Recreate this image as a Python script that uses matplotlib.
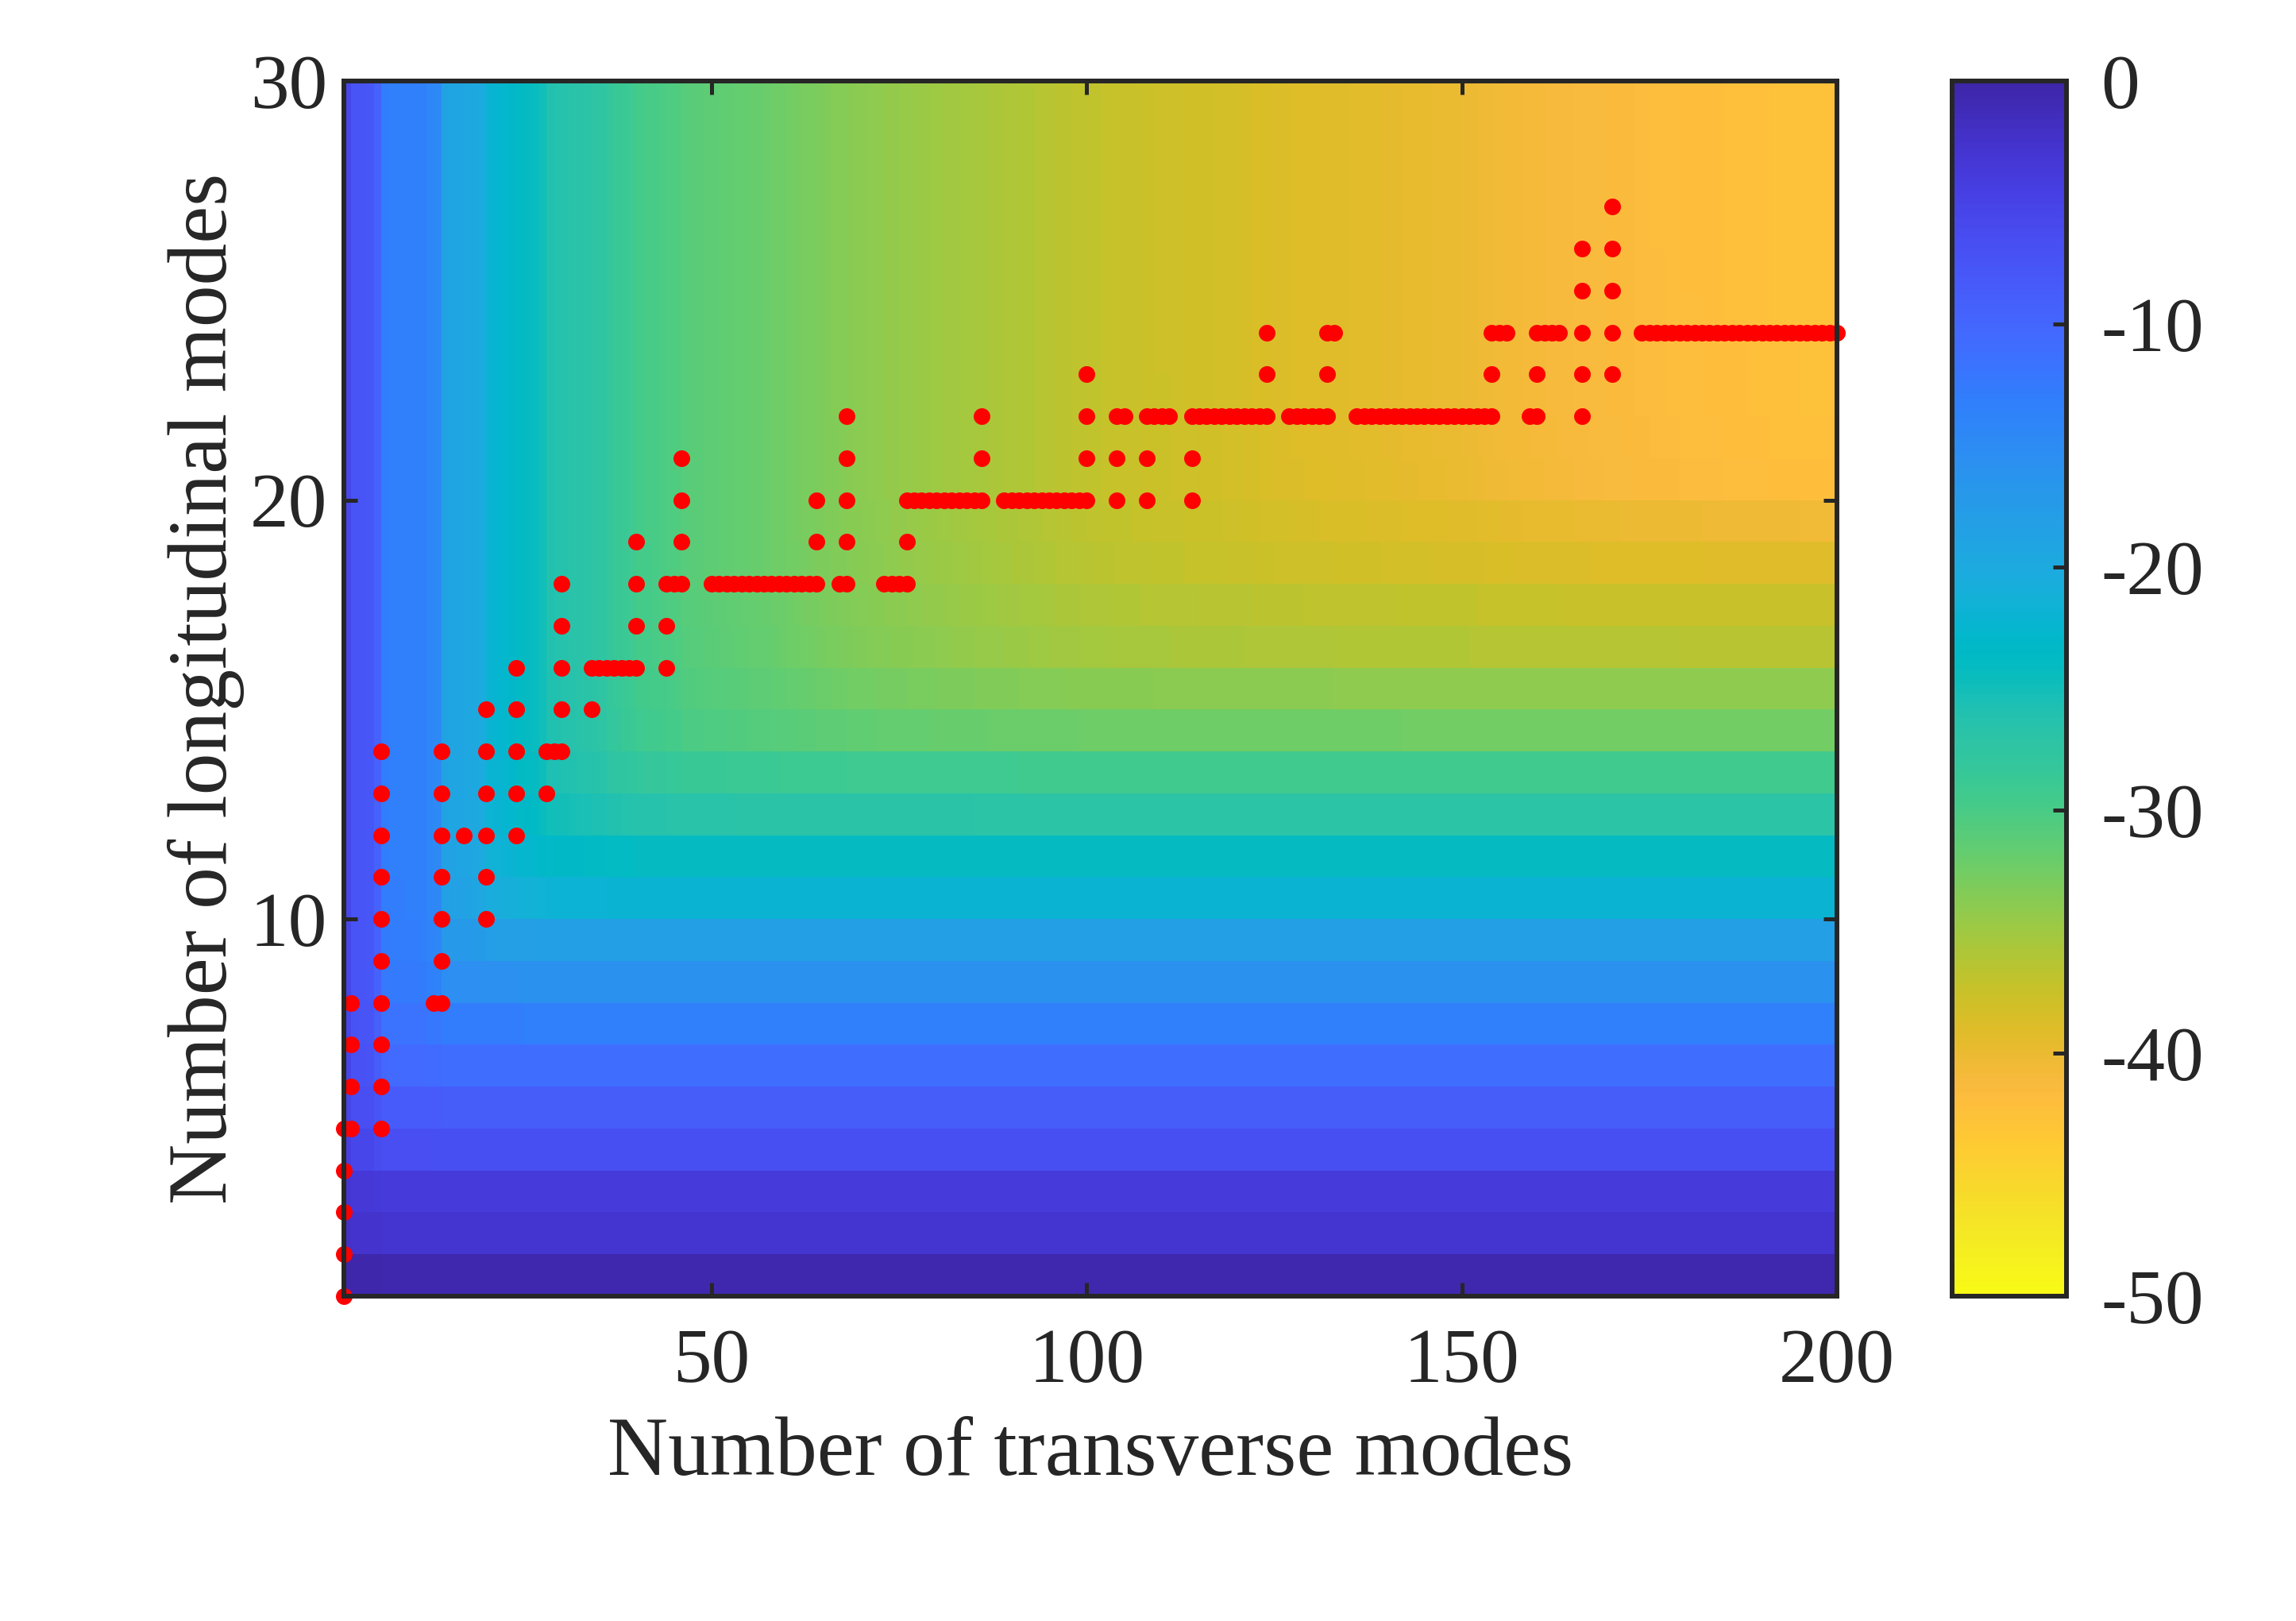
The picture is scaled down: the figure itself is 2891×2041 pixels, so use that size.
import numpy as np
import matplotlib
matplotlib.use('Agg')
import matplotlib.pyplot as plt
from matplotlib.colors import LinearSegmentedColormap

# parula colours, dark end first
parula_colors = [
    (0.2422, 0.1504, 0.6603), (0.2504, 0.1650, 0.7076), (0.2578, 0.1818, 0.7511), (0.2647, 0.1978, 0.7952),
    (0.2706, 0.2147, 0.8364), (0.2751, 0.2342, 0.8710), (0.2783, 0.2559, 0.8991), (0.2803, 0.2782, 0.9221),
    (0.2813, 0.3006, 0.9414), (0.2810, 0.3228, 0.9579), (0.2795, 0.3447, 0.9717), (0.2760, 0.3667, 0.9829),
    (0.2699, 0.3892, 0.9906), (0.2602, 0.4123, 0.9952), (0.2440, 0.4358, 0.9988), (0.2206, 0.4603, 0.9973),
    (0.1963, 0.4847, 0.9892), (0.1834, 0.5074, 0.9798), (0.1786, 0.5289, 0.9682), (0.1764, 0.5499, 0.9520),
    (0.1687, 0.5703, 0.9359), (0.1540, 0.5902, 0.9218), (0.1460, 0.6091, 0.9079), (0.1380, 0.6276, 0.8973),
    (0.1248, 0.6459, 0.8883), (0.1113, 0.6635, 0.8763), (0.0952, 0.6798, 0.8598), (0.0689, 0.6948, 0.8394),
    (0.0297, 0.7082, 0.8163), (0.0036, 0.7203, 0.7917), (0.0067, 0.7312, 0.7660), (0.0433, 0.7411, 0.7394),
    (0.0964, 0.7500, 0.7120), (0.1408, 0.7584, 0.6842), (0.1717, 0.7670, 0.6554), (0.1938, 0.7758, 0.6251),
    (0.2161, 0.7843, 0.5923), (0.2470, 0.7918, 0.5567), (0.2906, 0.7973, 0.5188), (0.3406, 0.8008, 0.4789),
    (0.3909, 0.8029, 0.4354), (0.4456, 0.8024, 0.3909), (0.5044, 0.7993, 0.3480), (0.5616, 0.7942, 0.3045),
    (0.6174, 0.7876, 0.2612), (0.6720, 0.7793, 0.2227), (0.7242, 0.7698, 0.1910), (0.7738, 0.7598, 0.1646),
    (0.8203, 0.7498, 0.1535), (0.8634, 0.7406, 0.1596), (0.9035, 0.7330, 0.1774), (0.9393, 0.7288, 0.2100),
    (0.9728, 0.7298, 0.2394), (0.9956, 0.7434, 0.2371), (0.9970, 0.7659, 0.2199), (0.9952, 0.7893, 0.2028),
    (0.9892, 0.8136, 0.1885), (0.9786, 0.8386, 0.1766), (0.9676, 0.8639, 0.1643), (0.9610, 0.8890, 0.1537),
    (0.9597, 0.9135, 0.1423), (0.9628, 0.9373, 0.1265), (0.9691, 0.9606, 0.1064), (0.9769, 0.9839, 0.0805),
]

x_edges = np.arange(1, 201)
y_edges = np.arange(1, 31)

# values read along the top of the map, one per column
column_db = [
    -5.6, -7.5, -7.6, -7.7, -9.5, -13.0, -13.1, -13.1, -13.2, -13.2,
    -13.3, -14.3, -14.7, -18.8, -19.0, -19.2, -19.5, -19.8, -20.3, -22.0,
    -22.3, -22.7, -23.0, -23.8, -24.1, -24.4, -25.0, -26.0, -26.2, -26.4,
    -26.6, -26.8, -27.0, -27.2, -27.5, -28.3, -28.6, -28.9, -29.2, -29.8,
    -29.9, -30.0, -30.2, -30.4, -30.6,
    -31.0, -31.1, -31.2, -31.3, -31.4, -31.5, -31.6, -31.7, -31.8, -31.9,
    -32.0, -32.1, -32.3, -32.4, -32.6, -32.7, -32.9, -33.0, -33.2, -33.3,
    -33.4, -33.5, -33.7, -33.8, -33.9, -34.0, -34.1, -34.2, -34.3, -34.4,
    -34.5, -34.6, -34.7, -34.8, -34.9, -35.0, -35.1, -35.2, -35.3, -35.4,
    -35.5, -35.6, -35.7, -35.8, -35.9, -36.0, -36.1, -36.2, -36.4, -36.5,
    -36.6, -36.7, -36.8, -36.9, -37.0, -37.1, -37.2, -37.3, -37.4, -37.4,
    -37.5, -37.6, -37.6, -37.7, -37.7, -37.8, -37.8, -37.9, -37.9, -38.0,
    -38.0, -38.1, -38.2, -38.2, -38.3, -38.4, -38.5, -38.6, -38.7, -38.8,
    -38.8, -38.9, -38.9, -39.0, -39.0, -39.1, -39.1, -39.2, -39.2, -39.3,
    -39.3, -39.4, -39.4, -39.5, -39.5, -39.6, -39.7, -39.7, -39.8, -39.8,
    -39.9, -39.9, -40.0, -40.0, -40.1, -40.2, -40.3, -40.4, -40.5, -40.6,
    -40.7, -40.8, -40.9, -41.0, -41.0, -41.1, -41.1, -41.2, -41.2, -41.3,
    -41.3, -41.4, -41.4, -41.5, -41.5, -41.6, -41.6, -41.7, -41.7, -41.8,
    -41.8, -41.9, -41.9, -42.0, -42.0, -42.0, -42.1, -42.1, -42.1, -42.2,
    -42.2, -42.2, -42.3, -42.3, -42.3, -42.4, -42.4, -42.4, -42.4, -42.5,
    -42.5, -42.5, -42.5, -42.5,
]

# values read along the right edge of the map, one per row
row_db = [
    -0.4, -2.8, -3.8, -6.7, -8.7, -11.1, -13.1, -15.9, -18.3, -22.0,
    -24.2, -27.0, -29.4, -32.5, -34.2, -36.5, -37.7, -39.7, -41.5, -46.0,
    -48.0, -50.0, -52.0, -54.0, -56.0, -58.0, -60.0, -62.0, -64.0,
]

# red dots, transverse modes for each number of longitudinal modes
dots_by_row = {
    1: [1],
    2: [1],
    3: [1],
    4: [1],
    5: [1, 2, 6],
    6: [2, 6],
    7: [2, 6],
    8: [2, 6, 13, 14],
    9: [6, 14],
    10: [6, 14, 20],
    11: [6, 14, 20],
    12: [6, 14, 17, 20, 24],
    13: [6, 14, 20, 24, 28],
    14: [6, 14, 20, 24, 28, 29, 30],
    15: [20, 24, 30, 34],
    16: [24, 30, 34, 35, 36, 37, 38, 39, 40, 44],
    17: [30, 40, 44],
    18: [30, 40, 44, 45, 46] + list(range(50, 65)) + [67, 68, 73, 74, 75, 76],
    19: [40, 46, 64, 68, 76],
    20: [46, 64, 68] + list(range(76, 87)) + list(range(89, 101)) + [104, 108, 114],
    21: [46, 68, 86, 100, 104, 108, 114],
    22: [68, 86, 100, 104, 105, 108, 109, 110, 111] + list(range(114, 125))
        + list(range(127, 133)) + list(range(136, 155)) + [159, 160, 166],
    23: [100, 124, 132, 154, 160, 166, 170],
    24: [124, 132, 133, 154, 155, 156, 160, 161, 162, 163, 166, 170]
        + list(range(174, 201)),
    25: [166, 170],
    26: [166, 170],
    27: [170],
}

x_ticks = [50, 100, 150, 200]
y_ticks = [10, 20, 30]
bar_ticks = [0, -10, -20, -30, -40, -50]
bar_labels = ['0', '-10', '-20', '-30', '-40', '-50']

W, H = 2891, 2041
ink = '#262626'
plt.rcParams['font.family'] = ['Liberation Serif', 'DejaVu Serif']

fig = plt.figure(figsize=(W / 100, H / 100), dpi=100)
ax = fig.add_axes([433 / W, 1 - 1632 / H, 1880 / W, 1530 / H])
cax = fig.add_axes([2457.5 / W, 1 - 1632 / H, 144.5 / W, 1530 / H])

# the map is the two read profiles laid over each other
cmap = LinearSegmentedColormap.from_list('parula_r', parula_colors[::-1], N=256)
col = np.array(column_db)[np.newaxis, :]
row = np.array(row_db)[:, np.newaxis]
Z = 5 * np.log10(10 ** (col / 5) + 10 ** (row / 5))
mesh = ax.pcolormesh(x_edges, y_edges, Z, cmap=cmap, vmin=-50, vmax=0, shading='flat')

dot_x, dot_y = [], []
for n_long, n_trans in dots_by_row.items():
    dot_x += n_trans
    dot_y += [n_long] * len(n_trans)
ax.plot(dot_x, dot_y, 'o', color='#ff0000', ms=15.1, mew=0, clip_on=False, zorder=2)

ax.set_xlim(1, 200)
ax.set_ylim(1, 30)
ax.set_xticks(x_ticks)
ax.set_yticks(y_ticks)
ax.tick_params(which='both', direction='in', top=True, right=True, length=12, width=3.6,
               color=ink, labelcolor=ink, labelsize=70)
ax.tick_params(axis='x', pad=29)
ax.tick_params(axis='y', pad=15)
for spine in ax.spines.values():
    spine.set_linewidth(4.3)
    spine.set_color(ink)

ax.set_xlabel('Number of transverse modes', fontsize=76, color=ink, labelpad=16)
ax.set_ylabel('Number of longitudinal modes', fontsize=76, color=ink, labelpad=5)

cbar = fig.colorbar(mesh, cax=cax)
cbar.set_ticks(bar_ticks)
cbar.set_ticklabels(bar_labels)
cbar.ax.tick_params(direction='in', length=12, width=3.6, color=ink, labelcolor=ink,
                    labelsize=70, pad=31)
cbar.outline.set_linewidth(4.3)
cbar.outline.set_edgecolor(ink)

fig.savefig('out.png', dpi=100)
